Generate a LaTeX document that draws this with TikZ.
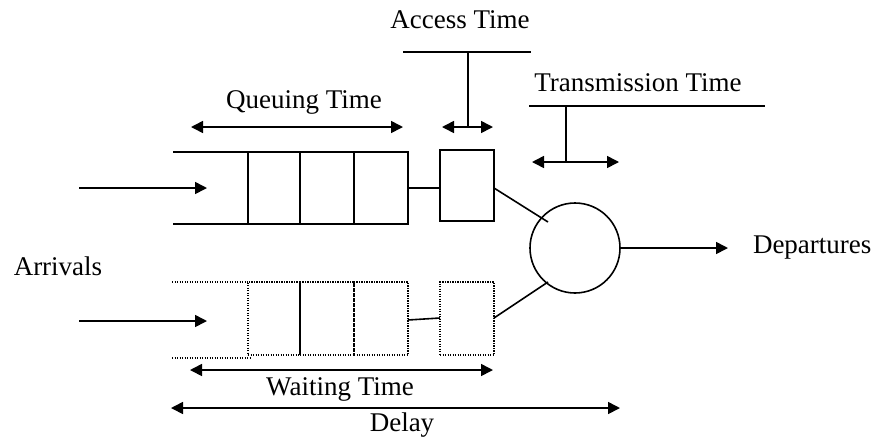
\documentclass[tikz,border=0pt]{standalone}
\usepackage{fontspec}
\setmainfont{Liberation Serif}
\usetikzlibrary{arrows.meta}
\begin{document}
\begin{tikzpicture}[x=1pt,y=-1pt,
  every node/.style={inner sep=0pt,outer sep=0pt},
  ln/.style={line width=1.6pt},
  dot/.style={line width=1.5pt,dash pattern=on 1.2pt off 1.3pt},
  cell/.style={ln,draw,minimum height=72pt},
  dcell/.style={dot,draw,minimum height=73pt},
  tip/.style={-{Triangle[length=12pt,width=12pt]}},
  dtip/.style={{Triangle[length=12pt,width=12pt]}-{Triangle[length=12pt,width=12pt]}},
  lbl/.style={font=\fontsize{27}{31}\selectfont}]
\useasboundingbox (0,0) rectangle (882,440);
% top queue
\node[cell,minimum width=52pt] (q1) at (274,188) {};
\node[cell,minimum width=54pt] (q2) at (327,188) {};
\node[cell,minimum width=54pt] (q3) at (381,188) {};
\coordinate (qt) at (173,152);
\coordinate (qb) at (173,224);
\draw[ln] (qt) -- (q1.north west);
\draw[ln] (qb) -- (q1.south west);
\node[cell,minimum width=54pt,minimum height=71pt] (a1) at (467,185.5) {};
\coordinate (in1) at (79,188);
\coordinate (in1e) at (207,188);
\draw[ln,tip] (in1) -- (in1e);
\draw[ln] (q3.east) -- (a1.west |- q3.east);
% server
\node[draw,ln,circle,minimum size=90pt] (srv) at (575,248) {};
\draw[ln] (a1.east |- 0,188) -- (548,222);
\node[lbl,anchor=west] (dep) at (753,248) {Departures};
\draw[ln,tip] (srv.east) -- (dep.west -| 728,0);
% lower queue
\node[dcell,minimum width=52pt] (r1) at (274,318.5) {};
\node[dcell,minimum width=54pt] (r2) at (327,318.5) {};
\node[dcell,minimum width=54pt] (r3) at (381,318.5) {};
\draw[ln] (r1.north east) -- (r1.south east);
\coordinate (rt) at (172,282);
\coordinate (rb) at (172,358);
\draw[dot] (rt) -- (r1.north west);
\draw[dot] (rb) -- (250,358);
\node[dcell,minimum width=54pt] (a2) at (467,318.5) {};
\coordinate (in2) at (79,321);
\coordinate (in2e) at (207,321);
\draw[ln,tip] (in2) -- (in2e);
\draw[ln] (r3.east |- 0,320) -- (a2.west |- 0,318);
\draw[ln] (a2.east |- 0,318) -- (548,282);
\node[lbl] (arr) at (58,266) {Arrivals};
% annotations
\node[lbl] (qtime) at (304,102) {Queuing Time};
\coordinate (qa) at (191,127);
\coordinate (qe) at (403,127);
\draw[ln,dtip] (qa) -- (qe);
\node[lbl] (atime) at (460,20) {Access Time};
\coordinate (al) at (403,52);
\coordinate (ar) at (531,52);
\coordinate (am) at (468,52);
\coordinate (ab) at (468,127);
\draw[ln] (al) -- (ar);
\draw[ln] (am) -- (ab);
\coordinate (aa) at (442,127);
\coordinate (ae) at (493,127);
\draw[ln,dtip] (aa) -- (ae);
\node[lbl] (ttime) at (638,83) {Transmission Time};
\coordinate (tl) at (529,106);
\coordinate (tr) at (765,106);
\coordinate (tm) at (566,106);
\coordinate (tb) at (566,162);
\draw[ln] (tl) -- (tr);
\draw[ln] (tm) -- (tb);
\coordinate (ta) at (532,162);
\coordinate (te) at (619,162);
\draw[ln,dtip] (ta) -- (te);
\coordinate (wa) at (190,370);
\coordinate (we) at (493,370);
\draw[ln,dtip] (wa) -- (we);
\node[lbl] (wtime) at (340,389) {Waiting Time};
\coordinate (da) at (171,408);
\coordinate (de) at (620,408);
\draw[ln,dtip] (da) -- (de);
\node[lbl] (delay) at (402,425) {Delay};
\end{tikzpicture}
\end{document}
